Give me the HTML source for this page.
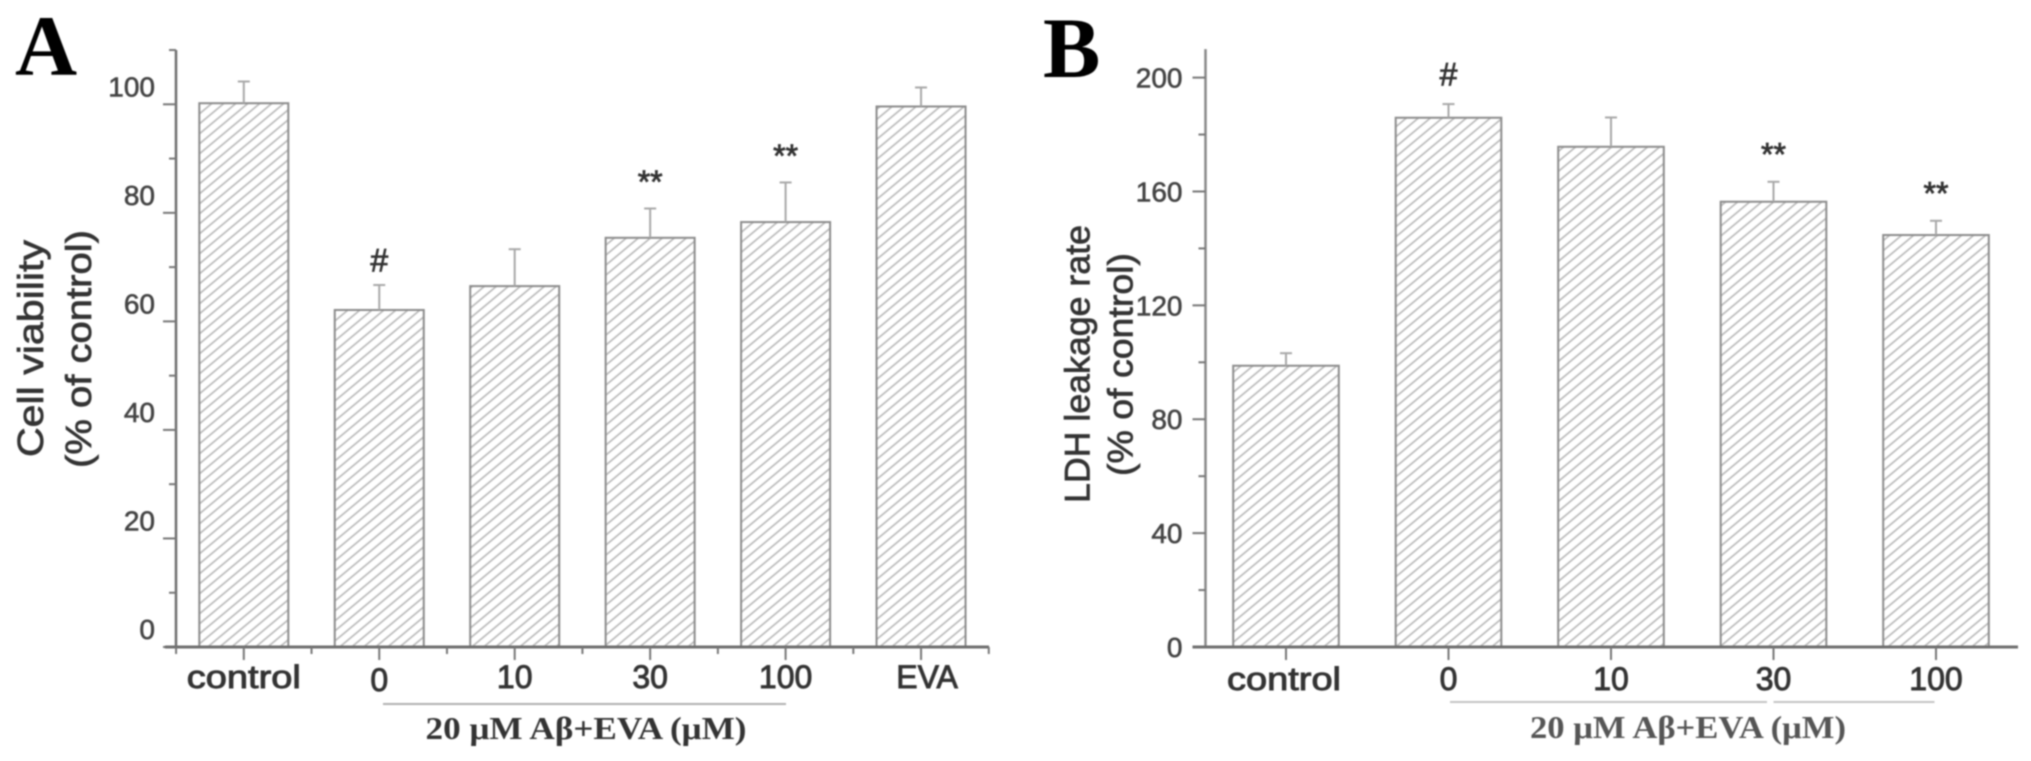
<!DOCTYPE html>
<html>
<head>
<meta charset="utf-8">
<title>Cell viability and LDH leakage rate</title>
<style>
html,body{margin:0;padding:0;background:#fff;width:2031px;height:761px;overflow:hidden}
svg{display:block;filter:blur(0.7px)}
text{font-family:"Liberation Sans",sans-serif}
.serif{font-family:"Liberation Serif",serif}
</style>
</head>
<body>
<svg id="figure" xmlns="http://www.w3.org/2000/svg" width="2031" height="761" viewBox="0 0 2031 761">
<defs>
<pattern id="hatch" patternUnits="userSpaceOnUse" width="12" height="10">
<line x1="-6" y1="15" x2="18" y2="-5" stroke="#bcbcbc" stroke-width="1.7"/>
<line x1="-18" y1="15" x2="6" y2="-5" stroke="#bcbcbc" stroke-width="1.7"/>
<line x1="6" y1="15" x2="30" y2="-5" stroke="#bcbcbc" stroke-width="1.7"/>
</pattern>
</defs>
<g id="panel-a">
<text class="serif" x="15" y="75" font-size="86" font-weight="bold" fill="#000">A</text>
<text transform="translate(43,457) rotate(-90)" font-size="36" fill="#333" stroke="#333" stroke-width="0.7" textLength="217" lengthAdjust="spacingAndGlyphs">Cell viability</text>
<text transform="translate(91,468) rotate(-90)" font-size="36" fill="#333" stroke="#333" stroke-width="0.7" textLength="238" lengthAdjust="spacingAndGlyphs">(% of control)</text>
<line x1="383" y1="704" x2="786" y2="704" stroke="#b0b0b0" stroke-width="2"/>
<text class="serif" x="425.5" y="739" font-size="32" font-weight="bold" fill="#333" textLength="321" lengthAdjust="spacingAndGlyphs">20 μM Aβ+EVA (μM)</text>
</g>
<g id="panel-b">
<text class="serif" x="1043" y="77" font-size="86" font-weight="bold" fill="#000">B</text>
<text transform="translate(1089.5,503) rotate(-90)" font-size="35" fill="#333" stroke="#333" stroke-width="0.7" textLength="278" lengthAdjust="spacingAndGlyphs">LDH leakage rate</text>
<text transform="translate(1132.5,476) rotate(-90)" font-size="35" fill="#333" stroke="#333" stroke-width="0.7" textLength="223" lengthAdjust="spacingAndGlyphs">(% of control)</text>
<line x1="1450" y1="702" x2="1767" y2="702" stroke="#c4c4c4" stroke-width="2"/>
<line x1="1773.5" y1="702" x2="1934.5" y2="702" stroke="#c4c4c4" stroke-width="2"/>
<text class="serif" x="1530" y="738" font-size="32" font-weight="bold" fill="#555" textLength="316" lengthAdjust="spacingAndGlyphs">20 μM Aβ+EVA (μM)</text>
</g>
</svg>
<script>
const categoriesA = ['control', '0', '10', '30', '100', 'EVA'];
const valuesA = [100.2, 62.1, 66.5, 75.4, 78.3, 99.6];
const errorTopsA = [104.2, 66.7, 73.3, 80.8, 85.6, 103.1];
const marksA = ['', '#', '', '**', '**', ''];
const majorTicksA = [0, 20, 40, 60, 80, 100];
const minorTicksA = [10, 30, 50, 70, 90, 110];

const categoriesB = ['control', '0', '10', '30', '100'];
const valuesB = [98.8, 185.9, 175.7, 156.4, 144.7];
const errorTopsB = [103.2, 190.7, 186, 163.4, 149.7];
const marksB = ['', '#', '', '**', '**'];
const majorTicksB = [0, 40, 80, 120, 160, 200];
const minorTicksB = [20, 60, 100, 140, 180];

const NS = 'http://www.w3.org/2000/svg';

function make(parent, tag, attrs, content) {
  const el = document.createElementNS(NS, tag);
  for (const k in attrs) el.setAttribute(k, attrs[k]);
  if (content !== undefined) el.textContent = content;
  parent.appendChild(el);
  return el;
}

function drawPanel(opt) {
  const g = document.getElementById(opt.id);
  const y = v => opt.y0 - v * opt.pxPerUnit;
  const x = i => opt.firstCenter + i * opt.step;
  const slug = opt.slug;

  // bars
  opt.values.forEach((v, i) => {
    const bar = make(g, 'rect', {
      x: x(i) - opt.barWidth / 2, y: y(v),
      width: opt.barWidth, height: opt.y0 - y(v),
      fill: 'url(#hatch)', stroke: '#8c8c8c', 'stroke-width': 2
    });
    
    
  });

  // error bars
  opt.errorTops.forEach((e, i) => {
    const stem = make(g, 'line', {
      x1: x(i), x2: x(i), y1: y(opt.values[i]), y2: y(e),
      stroke: '#a8a8a8', 'stroke-width': 2
    });
    
    
    const cap = make(g, 'line', {
      x1: x(i) - 6, x2: x(i) + 6, y1: y(e), y2: y(e),
      stroke: '#a8a8a8', 'stroke-width': 2
    });
    
    
  });

  // significance marks
  opt.marks.forEach((m, i) => {
    if (!m) return;
    const centre = y(opt.errorTops[i]) - (m === '#' ? opt.hashGap : opt.starGap);
    const baseline = m === '#' ? centre + 11.5 : centre + 18.5;
    const mark = make(g, 'text', {
      x: x(i), y: baseline, 'text-anchor': 'middle', 'font-size': 32,
      fill: '#333', stroke: '#333', 'stroke-width': 0.8
    }, m);
    
    
  });

  // y axis
  const yAxis = make(g, 'line', {
    x1: opt.axisX, x2: opt.axisX, y1: y(opt.yMax), y2: opt.y0,
    stroke: opt.yAxisColor, 'stroke-width': 2.5
  });
  
  

  opt.majorTicks.forEach(t => {
    const tick = make(g, 'line', {
      x1: opt.axisX - 13, x2: opt.axisX, y1: y(t), y2: y(t),
      stroke: '#777', 'stroke-width': 2
    });
    
    
    const label = make(g, 'text', {
      x: opt.yLabelRight, y: y(t) + opt.yLabelShift + 10,
      'text-anchor': 'end', 'font-size': 28, fill: '#444', stroke: '#444', 'stroke-width': 0.6
    }, t);
    
    
  });

  opt.minorTicks.forEach(t => {
    const tick = make(g, 'line', {
      x1: opt.axisX - 7, x2: opt.axisX, y1: y(t), y2: y(t),
      stroke: '#777', 'stroke-width': 2
    });
    
    
  });

  // x axis
  const xAxis = make(g, 'line', {
    x1: opt.xAxisLeft, x2: opt.xAxisRight, y1: opt.y0, y2: opt.y0,
    stroke: '#6e6e6e', 'stroke-width': 3
  });
  
  

  opt.categories.forEach((c, i) => {
    const tick = make(g, 'line', {
      x1: x(i), x2: x(i), y1: opt.y0, y2: opt.y0 + 13,
      stroke: '#777', 'stroke-width': 2
    });
    
    
    const nudgeX = c === 'EVA' ? 6 : (slug === 'b' && c === 'control' ? -2 : 0);
    const nudgeY = (c === '0' && slug === 'a') ? 3 : 0;
    const attrs = {
      x: x(i) + nudgeX, y: opt.xLabelBaseline + nudgeY,
      'text-anchor': 'middle', 'font-size': 32, fill: '#333', stroke: '#333', 'stroke-width': 0.9
    };
    if (c === 'control') {
      attrs.textLength = 114;
      attrs.lengthAdjust = 'spacingAndGlyphs';
    }
    const label = make(g, 'text', attrs, c);
    
    
  });

  if (opt.xMinorTicks) {
    for (let i = 0; i <= opt.categories.length; i++) {
      const px = x(i) - opt.step / 2;
      const tick = make(g, 'line', {
        x1: px, x2: px, y1: opt.y0, y2: opt.y0 + 7,
        stroke: '#777', 'stroke-width': 2
      });
      
      
    }
  }
}

drawPanel({
  id: 'panel-a', slug: 'a',
  categories: categoriesA, values: valuesA, errorTops: errorTopsA, marks: marksA,
  majorTicks: majorTicksA, minorTicks: minorTicksA,
  y0: 647, pxPerUnit: 5.427, yMax: 110, axisX: 176,
  firstCenter: 243.8, step: 135.45, barWidth: 89,
  yLabelRight: 155, yLabelShift: -18, yAxisColor: '#6e6e6e',
  xAxisLeft: 165, xAxisRight: 989, xLabelBaseline: 688, xMinorTicks: true,
  hashGap: 25, starGap: 34
});

drawPanel({
  id: 'panel-b', slug: 'b',
  categories: categoriesB, values: valuesB, errorTops: errorTopsB, marks: marksB,
  majorTicks: majorTicksB, minorTicks: minorTicksB,
  y0: 647, pxPerUnit: 2.847, yMax: 210, axisX: 1205.5,
  firstCenter: 1286, step: 162.5, barWidth: 105.6,
  yLabelRight: 1182.5, yLabelShift: 0, yAxisColor: '#888',
  xAxisLeft: 1192.5, xAxisRight: 2018, xLabelBaseline: 690, xMinorTicks: false,
  hashGap: 30, starGap: 35
});
</script>
</body>
</html>
